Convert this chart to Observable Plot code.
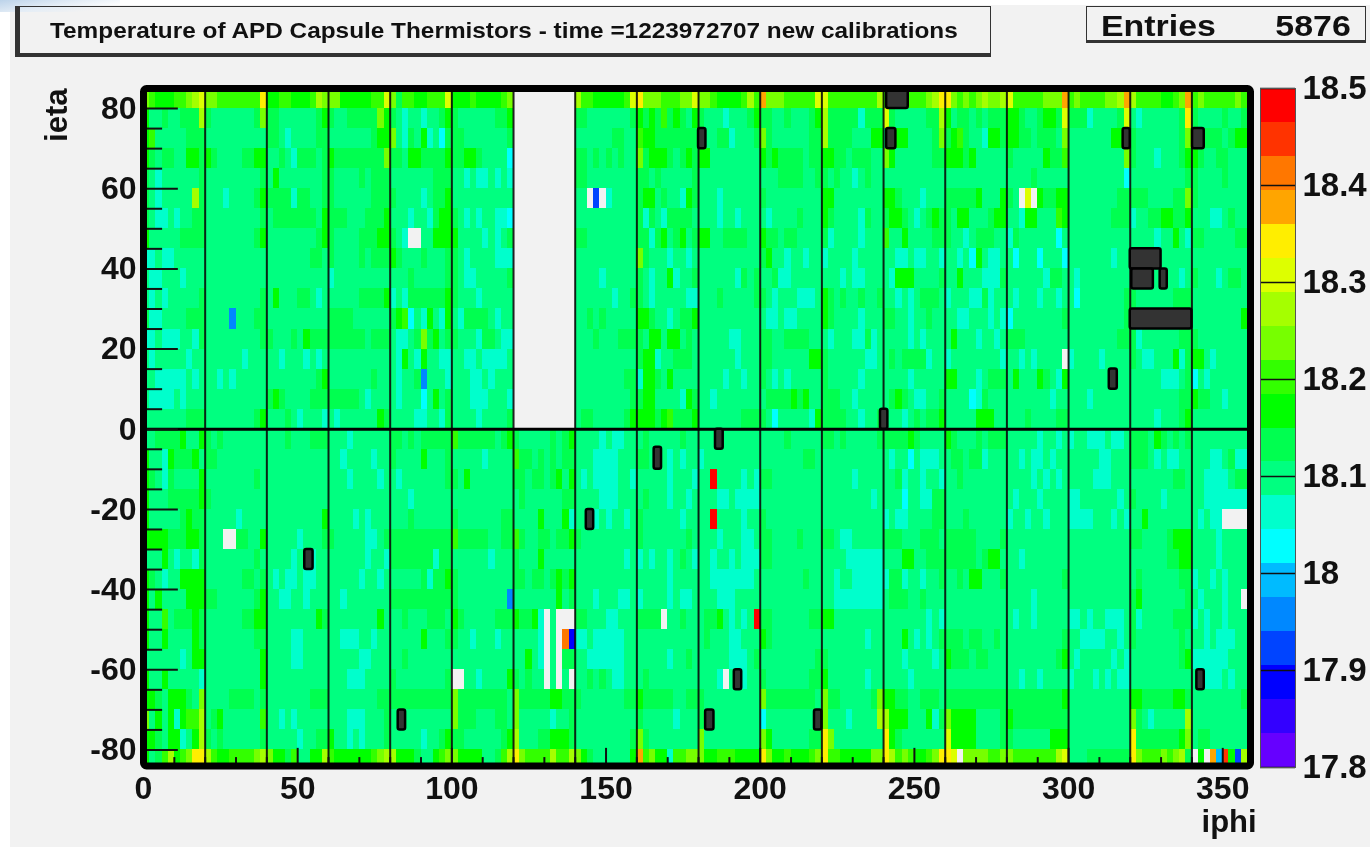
<!DOCTYPE html>
<html><head><meta charset="utf-8">
<script src="https://cdn.jsdelivr.net/npm/d3@7"></script>
<script src="https://cdn.jsdelivr.net/npm/@observablehq/plot@0.6"></script>
<style>
html,body{margin:0;padding:0;background:#fff;overflow:hidden}
#page{position:relative;width:1370px;height:847px;font-family:"Liberation Sans",Arial,sans-serif;font-weight:bold;color:#111}
#panel{position:absolute;left:10px;top:5px;right:0;bottom:0;background:#f2f2f2}
#swoosh{position:absolute;left:0;top:0;width:120px;height:12px;background:linear-gradient(170deg,#bcd3ea 0%,#e4edf6 45%,rgba(255,255,255,0) 80%)}
#title{position:absolute;left:15px;top:6px;width:970px;height:46px;border:1px solid #333;border-left-width:5px;border-bottom-width:4px;box-sizing:content-box;font-size:21.5px;line-height:46px;padding:0;white-space:nowrap}
#title span{position:absolute;left:30px;top:1px;transform:scaleX(1.133);transform-origin:left center}
#stats{position:absolute;left:1086px;top:6px;width:278px;height:33px;border:1px solid #333;border-bottom-width:3px;font-size:30px;line-height:33px}
#stats .k{position:absolute;left:14px;top:2px;transform:scaleX(1.13);transform-origin:left center}
#stats .v{position:absolute;right:14px;top:2px;transform:scaleX(1.13);transform-origin:right center}
svg{position:absolute;left:0;top:0}
#chart,#bar,#title span,#stats span{filter:blur(0.45px)}
</style></head><body>
<div id="page"><div id="panel"></div><div id="swoosh"></div>
<div id="title"><span id="titleText"></span></div>
<div id="stats"><span class="k" id="statK"></span><span class="v" id="statV"></span></div>
<div id="chart"></div><div id="bar"></div></div>
<script>
const titleText = "Temperature of APD Capsule Thermistors - time =1223972707 new calibrations";
const statLabel = "Entries";
const statValue = "5876";

// one letter per 2-iphi cell, grouped by 20-iphi sector; "." = empty bin
const levelCodes = "VUBNSCctmgGlLhYyoORr";
const levelValues = [17.82,17.85,17.89,17.92,17.96,17.99,18.03,18.06,18.10,18.13,18.17,18.20,18.24,18.27,18.31,18.34,18.38,18.41,18.45,18.48];
const levelEdges = [17.8,17.835,17.87,17.905,17.94,17.975,18.01,18.045,18.08,18.115,18.15,18.185,18.22,18.255,18.29,18.325,18.36,18.395,18.43,18.465,18.5];
const levelColors = ["#6600ff","#3300ff","#0000ff","#0044ff","#0088ff","#00bbff","#00ffff","#00ffcc","#00ff80","#00ff50","#00ff00","#33ff00","#77ff00","#a5ff00","#ddff00","#ffee00","#ffa500","#ff7700","#ff3300","#ff0000"];

const rowsNorth = [
"LlGGGllLhY LLllllllly GGllGGGlhL LLGGGGGllY LgllGGlllY GGGlGGGGlL .......... hllGGGGGlY yLLLlllLLY LLlGGGGlhl oLLLlllllY Yllllllllh lllllllLhy yLlLlLhLLh YlllllLLLo lLllllLLho hllllGGlLo lLlllllLlh",
"Gmmgmmgggh gmmmmmmmgL ggmmmmmmgG gmmgggggLG gmtmmtmmgG gmmmmmmggG .......... ggmmmmmmmg GgGglgGgmG gmmmtmmmgG ggmmgmmmgG hgggggtggg Ygmmmmmggh Gmggmgmggg GGgmmgGGgY gggtmmmmgY mtmmmmmmgy gmmmmgmmgg",
"Glmmmmmggg mmmmmmmmmm ggmtmmmmgg mmmmmmmgGG LmtgmGtmcg ggmmmmmmmg .......... mmmmmmggmm lGGggggggg mmmggtmmmg Lgmmmmmmgg hggggmmmGG mmGGmmmmgL gGlgmmtGGg GGggmgggmL mmmmmmmGGG gmmmmmmmgL mmgggmgGGg",
"GgmggmmGGg GgmmmmggGG mmgmtgggmg GggggggggL ggmGGggggG ggGGgmmmmc .......... ggmgmgmgmm LgGGGgmgGg GGmmmmmmmm GgGggggmgg GGggmgggmm LGmmmmmmgg GGGgGmmmmm gmmmmmGggl mmmmmmmmmL gmmmtmmmgG Ggmmggmmmm",
"gmtmmmmmmg mmmmmmmmmg mGmmmmmmmg gmmmmgmggg mmmmmmmggg mmtmttmtmt .......... ggmmmmmmmm ggmgmmmmmg mmmmmmmmmm mmmggggmmg gmgmmtmgmm mmmmmmmmmm mmmmmmmmmm mmmmgmmmmm mmmmmmmmmc mmmmmmmmmg gmmmmgmmmm",
"gmtmmmmmhg mmmtmmmmgG ggggtggmmg gmmmmmmggg gmmmmtmggG mmmmmmmmmm .......... mm.N.tmmmm gGGmgmmtGg mmmtmmmmmm gmmmmmmmmm GGmmmmmmmm GGgmmmtmmm gggggGmmmG gm.Y.GggGG mmmmmmmmgg gggmmmmggL gmmmmmmmmm",
"gmttmtmmgg mmmmmmmmmg mgggggggmG gggmmmgggG mmmtmmtgGG gmtmtmmttc .......... mmmmmmmmmm gtgmtggggm mmmtmmtmmm mtmmmmgmmm Ggmmmmtgmm gGGgmtmgGg gmGGmmmgGG mmtGGmmmlG mmmmmmmggg tmmggGGggG mmmttmgmmg",
"Gmmmmmgggg mmmmmmmmgG mmmmmmmmgG gmmmmgggGG gmt..mmGGG Gmmmmtmtmg .......... ggmmmmmmmm ggtgGmgGmg GGmmggggmm Gggmggmmmm gtmmmmtmmm lmmGmmmmgg gmmtmgggmm tgmmmmmmcm mmmmmmmmmm mmmmtmmGmt ggmmmmmggG",
"ttmttmmmmm mmmmmmmmmm mmmmmmmggm gmmmmgmggg Ggmmmgmmmg gmtmmmmttt .......... mmmmmmmmmm Lgmmmtmmtm mmmmmmmmmm gGmmtmmtmm tmmmmtmmmm mmttmttmmt mmtmcGmttm mcmmmcmmmc mmmmmmmtmm mmmmmmmmmm mmmmmmmmmm",
"mttmmmtmmm mmmmmmmmmm mmmmmmmmmm tmmmmmmmmm mmmgmmmmmg gmttmmmmmg .......... mmmmtmmmmm gmtmmGtmmg mmmmmmtgmg mmgttmmmmm mmmtmttmmm mtGGGmmmmg mmGmmmtttg mmmmmmtggm mtmmmmmmmm mmmmmmmmtm gmmmtmggmm",
"mtmtmmmmmg mmmmmmmmmg mGmmmggmtm mmmmmggggG tmtggggggG gmmmtmmmmm .......... mmmmmmtmmg gmtmmmmmtt mmmgmmmmmg gmtmmmtttm Ggmgmmgmmg mmtmtmgggm tmmmttgtmm mtmmmtmmtm mcmmmmmmmg gmmmmmmggg mmmmmmmmmm",
"gttmmmmggg mmmmSmmmgg mmmmmmmmmm ggggmmmmmm gGlcmtGmtG mtggggmtmm .......... mmgmgmmmmm GGgmmtmggG mmmmmmmmmm mttmttmmmm Ggmmmmtmmm ggmmtmmgmm mmttmmmtmt cmmmmmmmmg mmmmmmmmmg mmmmmmmmmm mmmmmmmmGg",
"ttmtttmmtg mmmmmmmmmg gmmmgmGggg ggggggmggg mttmgLgGmg gmmmtggmtt .......... mmmgmmmggg gmGGmGGmgm mmmmmttmmm ggmmggggmm mtmmmttgtm mmmmtmtmmm mGmmmtmmtm gggmmmmmmm mmmmmmmmgg gtmmmmmmgg gmmmmmmmmm",
"mtmmmmmtmm mmmmmmtmmm mmtmmmtmtm mmmmmmmmmm mtGmtGmmtt mmttmttttm .......... mmmmmmmmmm gGGtmmgggm mmmmmmtmmm ggmmmmmmGG gmmmmmmttm mgmggggtmm tmmmmmmmmt mmtmtmmmm. tmmmmtmmmm gmttmmmGtg GGmtmmmmmm",
"mmtttttmtm mmtmtmmmmm mmmmmmmmgG mmmmmmmgmm mtmmgSmmmt mmmttmtmmm .......... mmmmmmmmgg tGGgmGmmmm mmmmtmmtmm gmtmtmmmmm gmmmmmtmmm mmmmtmmmmm GGmmmtmggg mGmmmGgmtG mmmmmmmmmm mmmmmtttmg cmtmmmmmmm",
"mttttmtmmm mmmmmmmmmm gGgmmmmggg gggggmtmmm mtmmmcmGmg mmmtttmmmt .......... mmmmmmmmmg gGGmmmmtGg mmtmmmmmmm mggggGgGmm gggmmtmmmm mgGgmttmmg mmmmctgmmm mmmmmmmtmm mmmtmmmmmm mmmmmmmmgg Gggmmtmmmm",
"mmmmmmmggg mmmmmmmmgG mmmgmtmmmt mtmmmmmmGg mmmmttmmtg mmmmtmmmmg .......... mggmmmmmgG GGGgGlgggG mmmmmmmggg gmcmmmmmtG ggggmmtmmg mmmtmgmggG mmmmmGGGmm mmmgmmmmgg mmmmmmmmmm mmmmtmmmgG mmmmmmmmmm"
];
const rowsSouth = [
"mmggggGmmG gmgmmmmmmm mmmgmmmggg mmmtmmmmmm ggmgmggggg lggggggmgG gmmmmmgmgG mmmmtmttmm mgmmmmmgmm mmmmmmmmmm mmmmgmmmmm ggmgmmmmmg ggggGgmmmm Ggmmmgmggg mmmmmtmmtm tmmtttmttm gggmGgmgmg mmmmmmmmmm",
"GmmtGgggGm ggmmmmmmmm mmmmmmmmmm mmtmmmmtmm gmmmmGmmmg mmmmmtmmmm lggmgmgmgg mmmttttmmm ggmmmtmtmm tmmmmmmmmm mmmmmmmggm mmmmmmmmmm mtmmcmtttm mggmggtmmm mmtmttmtmm mmmmmttmmm gggmtmttmm mmmttmgttt",
"GgmtgmmmmG mmmmmmmmgm mmmmmmmmmm mmmtmmmmtm mtmmmmmmmg gmGmmmmmmm ggmggmgGmG mtmttttmmt mmmmmtmmmt mmrmmmmtmt ggmmmmmmmm mmmmmtmmmm mmgtmmtmmt mmgmmmmmmm mmmmtmtmtm mmmmtttmmm mmmmmmmggm mmttttmggt",
"GmmmgggggG gmmmmmmmmm mmmmmmmmmm mmmmmmmmmm mmmtmmmmmm mmmmmmmmmm mgmmmmmmgg mmmmtttmmm mgmmmtmmtm mmmttmtttt mmmmmmmmmm mmmmmmmmtm mmmcmmttgg mmmmmmmmmm mtmmmtmmmm ttmmmmmmtm gmmmmtmmmm mmtttttttt",
"GmmmmmgGgg mmmmmtmmmm mmmmmmmmmG mmmmtmtmmm mmmgmmmmmm gmmmmmmmgg mmmmGmmmGt mmmtmtmmtm gmmmmmmtmm mmrmmmmtmm gmmmmmmmmm mmmmmmmmmm tmttmmmmgg mmmgmmmmmm tmmtmmtmmm ttttmmmtmt mmGmmmmmmm mtmtt.....",
"GGGGgggGGg mmm..ggmmG mmmmmtmmmg gmmmmmttmg gggggggggg lgggggmmgg lgmmggmggG gmmmmmmmmm gmmmmmmmgm mmmtmmmttm ggmmmmgmmm ggmttmmmmm gggmmmgggm gggggmmmmg mmmmmmmmmm mmmmmmmmmm ggmmmmgGGG mmmmtmmmmm",
"mmmGmtmmtg mmmmmmmmgm mmmmtmmtmm mmmmmmtmmt gggggggtgg mmmmmmtmmm gmmmGmmmmm mmmmmmmmtm tmtmmtmgmt mmtmmtmttt ggmmmmmmmm mmmmtttttt mmmGGmmggg gggggmgGGm mmtmmmmmmm mmmmmmmmmm mmmmmmggGG mmmmtmmmmm",
"GgmtmmGGGG mmmmmmggmg mtmttmttmm mmmmmtmmtm mmmmmgtggG gmmmmmmmmm ggmggmgGgG mmmmmmmmmm mmmmmtmmmm mmtttttttm mmmmmmmgmm mmtmmttttt tggtmmtmmg mmgmGGmmmg mmmmmmmmmg mmmmmmmmmm mgmmmmmmgg tmmtmtmmmm",
"GmGmmmmGGG ggmmmmmmgG mmttmmtmmm mmtmmmmmmm gggggggggg gmmmmmmmmS mmmmmmmGmg mmmtmmmttm tmmmmtmttm mmmtttmmmm mmmmmmmmmm mmtttttttt mgggmmgmmm mmmmmmmmmm mmmmtmmmmm mmmmmmmmmm gGmmmmmmmg mtmmmtmm..",
"GmmlmgggGg mmmmmmggGG mmmmmmmmGg mmmmmmmmGm mmgmmmgggm Ggmmmmmggg GggGt.m... ggmmmttmmm gggg.mmgmm mggGmtmtmr ggmmmmmmgg GGmmmmmmmm mmmmmmmtmt mmmmmmmmmm mtmmtmmmmm ttmtmmtttm gtmmmmmggg tmtmmtmmmm",
"GmmGmmmmGg mmmmmmmmgg mmmmttmmmm mmtttmmtmm mmmmmGmmmg gmmtmmmtmm mmmmt.m.OB ttmtttttmm mmmmmmmmmm mgmmmttmmm Ggmmmmmmmm mmmmmmmtmm mmmGmtmtmg gggmggmmgm mmmmmmmmmg mmttttmmtm gmmmmmmmgm mmtmtttmmm",
"mmmmmmtmGG mmmmmmmmmG mmmmttmmmm mmmmmttmmm mmgmmmmmmm mmmmmmmmmm mmGmt.m.gg mmttttttmm mmmmmtmmgm mmmmmtttmg mmmmmmmmmg gmmmmmmmmm mmmtmmmmtm Ggggmggmmm mmmmmmmmgG mtmmmmmtmt mmmmmmmmgG ttttttmmmm",
"GmmGmmmmmt mmmmmmmmmG mmmmmmmmmm mmmtttmmmm gmmmmmmmmg ..mmtmmmmG gmgmm.m.m. mmgmgmttmm mgmmmmmmmm mmmt.mttmm gmmmmmmmgg Gmmmmmmtmm mmmmtmmmmm mmmmmmmmmm mmtmmtmmmm tmmmtmtmtt mmmmmmmmmm mmtttmtmmm",
"GGgmGGGgmL mmmmggggmg mmmmmmmggg mmmmmmmmgg gggggggggg Lggggggggm LgggggGGgg gmmmmmmmgg Ggggggmmgg gmmmmmmmmm Lggggggggm LggmmmmmgL GGggmmgggm gggggggggg gggggggggG mmmmmmmmmm GGgggggGGg mmmmmmmmgG",
"LmGmGtGllh mgGmmmmmml mmtmtmmmmm mmmtttmmmg mmmmmmmmmm Lgggmmmggm Lmmmmmtmmg mmmmmmmmmm gmmmmmtmmm gmmmmmmmmm cmmmmmmmmm Lmmmtmmmmh hGGGmmmGtg LGGGGmmmmg Gggggggggg mmmmmmmmmm Lgmtmmmmmh mmmmmmmmmm",
"GGgmGGtmGh gmgmmmmmmg mmmmmtmmgg Gmmtmtmmmg mmmmmtmmgG ggmmmmmmgG hmmmggGGGg mmmmmmmmmg Lgmmmmmmmm Lmmmmmmmmm LGmmmmmmgg yLmmmmmmmm yGgmmmmmmm YGGGGmmmmg gmmmmmmGGG mmmmmmmmmm ygggggggGL mggmmmmmmm",
"GmglhGlLyy hlGGllllLh LGGglmmGGh lGGGGGGlLh hGGGgmmGlL LGGGGmmglh yLllllhllh LGgmmmmmmG olLGGtllLL LGGlllGGGG yLGGlGGGlL yllGGGGGLL yhlLlGGlLy yY.LLLLllL LlllllllhY mmmggggggg yLlllLlLhg .G.oCRGNhh"
];

// outlined dark bins [iphi from, iphi to, ieta from, ieta to]
const boxes = [
[241,248,80,86],[241,244,70,75],[180,182.4,70,75],[317.7,320,70,75],[340.2,344,70,75],
[320,330,40,45],[320.5,327.5,35,40],[329.7,332,35,40],[320,340,25,30],[313.2,315.8,10,15],[239,241.4,0,5],
[185.5,188,-5,0],[165.6,168,-10,-4.5],[143.6,146,-25,-20],[52.3,55,-35,-30],[82.6,85,-75,-70],
[191.6,194,-65,-60],[182.3,185,-75,-70],[217.6,220,-75,-70],[341.6,344,-65,-60]
];
const sectorLines = [20,40,60,80,100,120,140,160,180,200,220,240,260,280,300,320,340];
const xMajor = [0,50,100,150,200,250,300,350];
const xMinor = [10,20,30,40,60,70,80,90,110,120,130,140,160,170,180,190,210,220,230,240,260,270,280,290,310,320,330,340];
const yMajor = [-80,-60,-40,-20,0,20,40,60,80];
const yMinor = [-75,-70,-65,-55,-50,-45,-35,-30,-25,-15,-10,-5,5,10,15,25,30,35,45,50,55,65,70,75];
const barTicks = [17.8,17.9,18,18.1,18.2,18.3,18.4,18.5];
const axisTitles = [{text:"ieta",x:-28,y:85,rotate:-90},{text:"iphi",x:361,y:-98,rotate:0}];

document.getElementById("titleText").textContent = titleText;
document.getElementById("statK").textContent = statLabel;
document.getElementById("statV").textContent = statValue;

const cells = [];
function addRows(rows, topEta){
  rows.forEach((row, r) => {
    row.split(" ").forEach((sector, s) => {
      [...sector].forEach((ch, i) => {
        const k = levelCodes.indexOf(ch);
        if (k < 0) return;
        cells.push({x1:s*20+i*2, x2:s*20+i*2+2, y2:topEta-r*5, y1:topEta-r*5-5, v:levelValues[k]});
      });
    });
  });
}
addRows(rowsNorth, 85);
addRows(rowsSouth, 0);

const colorScale = {type:"threshold", domain:levelEdges.slice(1,-1), range:levelColors};
const fontFamily = '"Liberation Sans",Arial,sans-serif';

const chart = Plot.plot({
  width:1370, height:847,
  marginLeft:143, marginRight:120, marginTop:88, marginBottom:81.5,
  style:{background:"transparent", fontFamily, fontWeight:"bold", color:"#111"},
  x:{domain:[0,359]},
  y:{domain:[-84,85]},
  color:colorScale,
  marks:[
    Plot.rect(cells,{x1:"x1",x2:"x2",y1:"y1",y2:"y2",fill:"v",clip:true,shapeRendering:"crispEdges"}),
    Plot.ruleX(sectorLines,{stroke:"#0a0a0a",strokeWidth:2,strokeOpacity:.9}),
    Plot.ruleY([0],{stroke:"#000",strokeWidth:3}),
    Plot.ruleY(yMajor,{x1:0,x2:11.3,stroke:"#111",strokeWidth:2}),
    Plot.ruleY(yMinor,{x1:0,x2:6.2,stroke:"#111",strokeWidth:2}),
    Plot.ruleX(xMajor,{y1:-84,y2:-79.6,stroke:"#111",strokeWidth:2}),
    Plot.ruleX(xMinor,{y1:-84,y2:-81.9,stroke:"#111",strokeWidth:2}),
    Plot.rect(boxes,{x1:d=>d[0],x2:d=>d[1],y1:d=>d[2],y2:d=>d[3],fill:"#333",stroke:"#000",strokeWidth:2.5,rx:2,clip:true}),
    Plot.frame({stroke:"#000",strokeWidth:7,rx:3}),
    Plot.axisX({ticks:xMajor,tickSize:0,tickPadding:10,fontSize:32,label:null,tickFormat:d=>String(d)}),
    Plot.axisY({ticks:yMajor,tickSize:0,tickPadding:7,fontSize:32,label:null,tickFormat:d=>String(d)}),
    Plot.text(axisTitles,{x:"x",y:"y",text:"text",rotate:"rotate",textAnchor:"end",fontSize:31,clip:false})
  ]
});
document.getElementById("chart").appendChild(chart);

const bands = levelValues.map((v,i)=>({v,lo:levelEdges[i],hi:levelEdges[i+1]}));
const bar = Plot.plot({
  width:1370, height:847,
  marginLeft:1260, marginRight:75, marginTop:88, marginBottom:80,
  style:{background:"transparent", fontFamily, fontWeight:"bold", color:"#111"},
  x:{domain:[0,1],axis:null},
  y:{domain:[17.8,18.5]},
  color:colorScale,
  marks:[
    Plot.rect(bands,{x1:0,x2:1,y1:"lo",y2:"hi",fill:"v",shapeRendering:"crispEdges"}),
    Plot.ruleY(barTicks,{stroke:"#111",strokeWidth:1.5}),
    Plot.frame({stroke:"#555",strokeWidth:1}),
    Plot.axisY({anchor:"right",ticks:barTicks,tickSize:0,tickPadding:7,fontSize:33,label:null,tickFormat:d=>String(d)})
  ]
});
document.getElementById("bar").appendChild(bar);
</script></body></html>
